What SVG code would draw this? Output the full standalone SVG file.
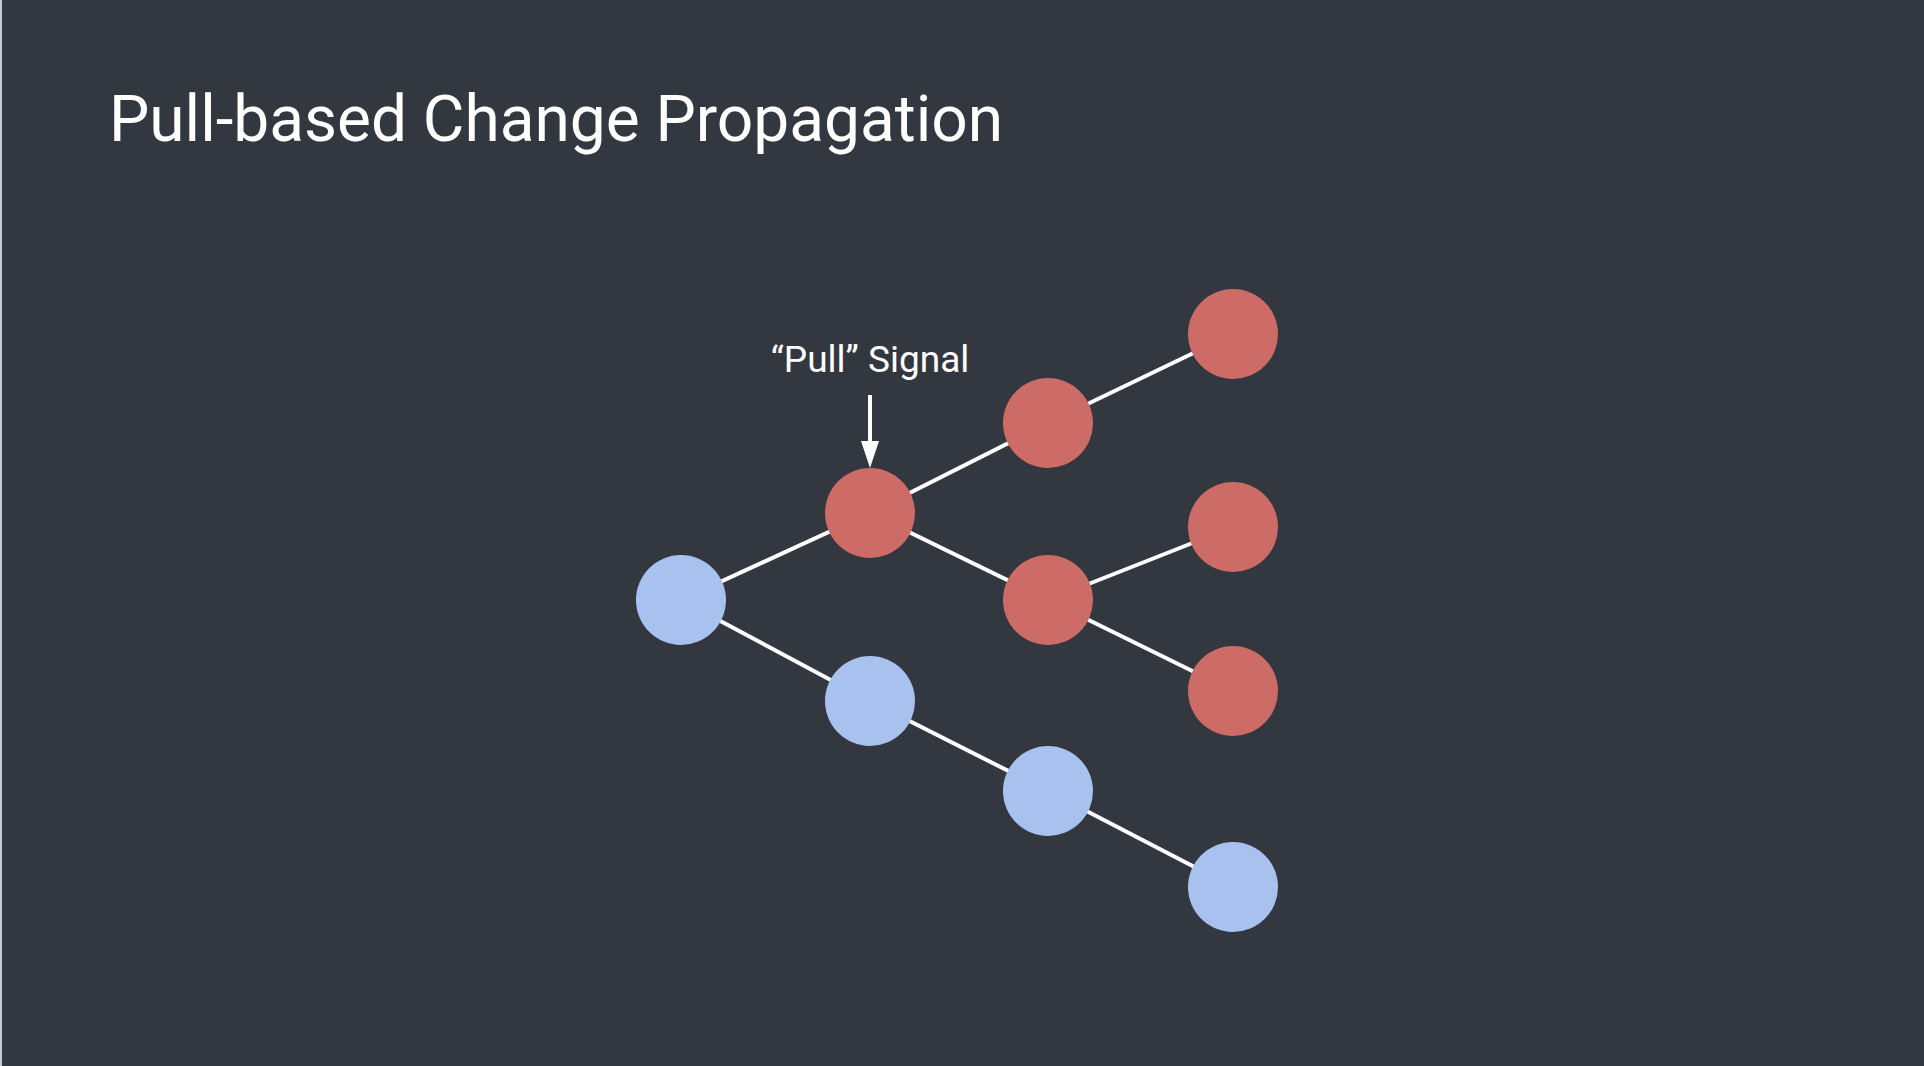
<svg xmlns="http://www.w3.org/2000/svg" width="1924" height="1066" viewBox="0 0 1924 1066">
<style>
.bg{fill:#333740}
.red{fill:#CD6B67}
.blue{fill:#A9C1EE}
.edge{stroke:#FFFFFF;stroke-width:4;fill:none}
.t{font-family:Roboto,"Liberation Sans",sans-serif;fill:#FFFFFF}
</style>
<rect class="bg" x="0" y="0" width="1924" height="1066"/>
<rect x="0" y="0" width="2" height="1066" fill="#C5CAD5"/>
<text class="t" x="109" y="141" font-size="64" textLength="894" lengthAdjust="spacing">Pull-based Change Propagation</text>
<g id="connectors">
<line class="edge" x1="681" y1="600" x2="870" y2="513"/>
<line class="edge" x1="870" y1="513" x2="1048" y2="423"/>
<line class="edge" x1="1048" y1="423" x2="1233" y2="334"/>
<line class="edge" x1="870" y1="513" x2="1048" y2="600"/>
<line class="edge" x1="1048" y1="600" x2="1233" y2="527"/>
<line class="edge" x1="1048" y1="600" x2="1233" y2="691"/>
<line class="edge" x1="681" y1="600" x2="870" y2="701"/>
<line class="edge" x1="870" y1="701" x2="1048" y2="791"/>
<line class="edge" x1="1048" y1="791" x2="1233" y2="887"/>
<line class="edge" x1="870" y1="395" x2="870" y2="443"/>
<path d="M861,441 L879,441 L870,468 Z" fill="#FFFFFF"/>
</g>
<g id="label-pull">
<text class="t" x="870" y="372" font-size="37" text-anchor="middle">“Pull” Signal</text>
</g>
<g id="n-b1"><circle class="blue" cx="681" cy="600" r="45"/></g>
<g id="n-r1"><circle class="red" cx="870" cy="513" r="45"/></g>
<g id="n-r2"><circle class="red" cx="1048" cy="423" r="45"/></g>
<g id="n-r3"><circle class="red" cx="1233" cy="334" r="45"/></g>
<g id="n-r4"><circle class="red" cx="1048" cy="600" r="45"/></g>
<g id="n-r5"><circle class="red" cx="1233" cy="527" r="45"/></g>
<g id="n-r6"><circle class="red" cx="1233" cy="691" r="45"/></g>
<g id="n-b2"><circle class="blue" cx="870" cy="701" r="45"/></g>
<g id="n-b3"><circle class="blue" cx="1048" cy="791" r="45"/></g>
<g id="n-b4"><circle class="blue" cx="1233" cy="887" r="45"/></g>
</svg>
